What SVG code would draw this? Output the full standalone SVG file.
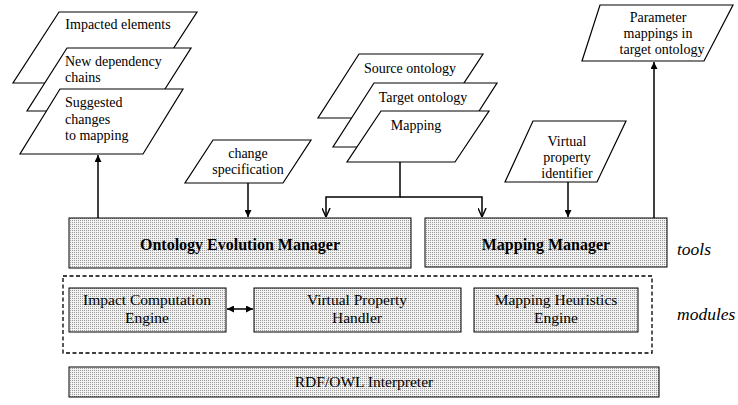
<svg xmlns="http://www.w3.org/2000/svg" width="738" height="405" viewBox="0 0 738 405" font-family="'Liberation Serif', 'Times New Roman', serif">
<defs>
<pattern id="dots" width="2" height="2" patternUnits="userSpaceOnUse">
<rect width="2" height="2" fill="#f2f2f2"/>
<rect width="1" height="1" fill="#9a9a9a"/>
</pattern>
<marker id="fa" viewBox="0 0 10 10" refX="10" refY="5" markerWidth="7" markerHeight="7" markerUnits="userSpaceOnUse" orient="auto-start-reverse">
<path d="M0,0 L10,5 L0,10 Z" fill="#000"/>
</marker>
<marker id="oa" viewBox="0 0 10 10" refX="10" refY="5" markerWidth="9" markerHeight="9" markerUnits="userSpaceOnUse" orient="auto">
<path d="M0,0.5 L10,5 L0,9.5" fill="none" stroke="#000" stroke-width="1.6"/>
</marker>
</defs>
<style>
text{font-family:'Liberation Serif','Times New Roman',serif}
.para{fill:#fff;stroke:#000;stroke-width:1.2}
.box{fill:url(#dots);stroke:#000;stroke-width:1}
.t{font-size:14px;fill:#000}
.m{font-size:15.5px;fill:#000;text-anchor:middle}
.b{font-size:16px;font-weight:bold;fill:#000;text-anchor:middle}
.i{font-size:17.5px;font-style:italic;fill:#000}
.c{text-anchor:middle}
.ln{fill:none;stroke:#000;stroke-width:1.5}
</style>

<g id="impacted">
<polygon class="para" points="59,12 197,12 151,83 13,83"/>
<text class="t c" x="118" y="29">Impacted elements</text>
</g>
<g id="dependency">
<polygon class="para" points="67,48 191,48 151,111 27,111"/>
<text class="t" x="65" y="66">New dependency</text>
<text class="t" x="65" y="82">chains</text>
</g>
<g id="suggested">
<polygon class="para" points="60,89 183,89 143,154 20,154"/>
<text class="t" x="65" y="107">Suggested</text>
<text class="t" x="65" y="124">changes</text>
<text class="t" x="65" y="140">to mapping</text>
</g>

<g id="source">
<polygon class="para" points="359,54 483,54 441,118 318,118"/>
<text class="t c" x="410" y="73">Source ontology</text>
</g>
<g id="target">
<polygon class="para" points="374,83 497,83 456,147 333,147"/>
<text class="t c" x="423" y="102">Target ontology</text>
</g>
<g id="mapping">
<polygon class="para" points="381,111 489,111 455,162 347,162"/>
<text class="t c" x="416" y="130">Mapping</text>
</g>

<g id="changespec">
<polygon class="para" points="213,140 311,140 283,183 185,183"/>
<text class="t c" x="248" y="158">change</text>
<text class="t c" x="248" y="174">specification</text>
</g>

<g id="vpi">
<polygon class="para" points="533,121 626,121 597,182 505,182"/>
<text class="t c" x="567" y="146">Virtual</text>
<text class="t c" x="567" y="162">property</text>
<text class="t c" x="567" y="178">identifier</text>
</g>

<g id="parameter">
<polygon class="para" points="600,5 733,5 704,61 582,61"/>
<text class="t c" x="658" y="22">Parameter</text>
<text class="t c" x="658" y="38">mappings in</text>
<text class="t c" x="662" y="54">target ontology</text>
</g>

<g id="oem">
<rect class="box" x="69" y="218" width="342" height="50"/>
<text class="b" x="240" y="250">Ontology Evolution Manager</text>
</g>
<g id="mm">
<rect class="box" x="425" y="218" width="242" height="49"/>
<text class="b" x="546" y="250">Mapping Manager</text>
</g>
<text class="i" x="677" y="255">tools</text>

<g id="modules">
<rect x="63" y="276" width="589" height="77" fill="none" stroke="#000" stroke-width="1.3" stroke-dasharray="4,2.5"/>
</g>
<text class="i" x="677" y="320">modules</text>

<g id="ice">
<rect class="box" x="69" y="288" width="157" height="44"/>
<text class="m" x="147" y="305">Impact Computation</text>
<text class="m" x="147" y="323">Engine</text>
</g>
<g id="vph">
<rect class="box" x="254" y="288" width="207" height="44"/>
<text class="m" x="357" y="305">Virtual Property</text>
<text class="m" x="357" y="323">Handler</text>
</g>
<g id="mhe">
<rect class="box" x="474" y="288" width="164" height="44"/>
<text class="m" x="556" y="305">Mapping Heuristics</text>
<text class="m" x="556" y="323">Engine</text>
</g>

<g id="rdf">
<rect class="box" x="69" y="367" width="590" height="30"/>
<text class="m" x="364" y="387">RDF/OWL Interpreter</text>
</g>

<g id="connectors">
<line class="ln" x1="98" y1="218" x2="98" y2="155" marker-end="url(#fa)"/>
<line class="ln" x1="248" y1="183" x2="248" y2="217" marker-end="url(#fa)"/>
<polyline class="ln" points="400,162 400,197 326,197 326,217" marker-end="url(#oa)"/>
<polyline class="ln" points="400,197 482,197 482,217" marker-end="url(#oa)"/>
<line class="ln" x1="568" y1="182" x2="568" y2="217" marker-end="url(#fa)"/>
<line class="ln" x1="654" y1="218" x2="654" y2="62" marker-end="url(#fa)"/>
<line class="ln" x1="227" y1="309" x2="253" y2="309" marker-start="url(#fa)" marker-end="url(#fa)"/>
</g>
</svg>
